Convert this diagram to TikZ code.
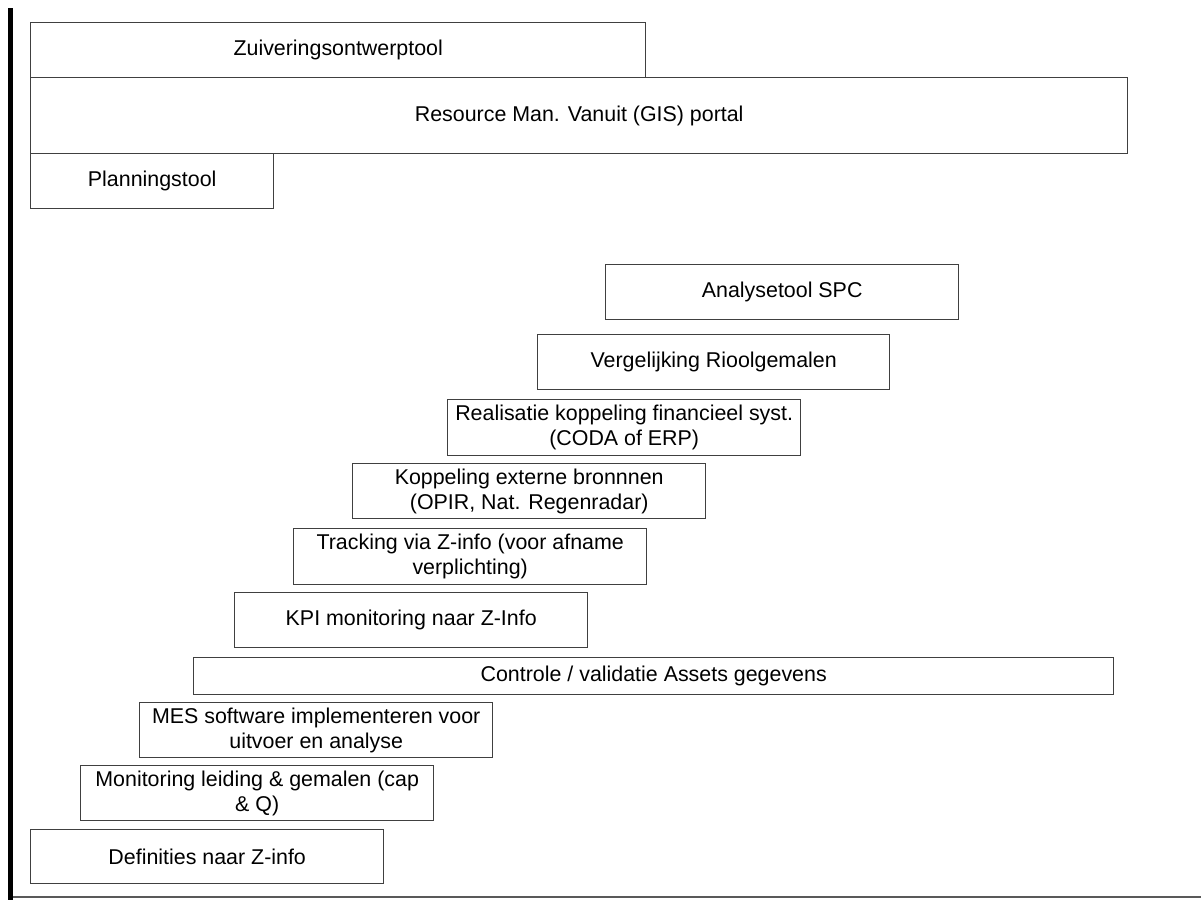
\documentclass[tikz,border=0pt]{standalone}
\usepackage{fontspec}
\setmainfont{Liberation Sans}
\begin{document}
\begin{tikzpicture}[x=1pt,y=-1pt,
  stage/.style={draw=black!75, line width=1.4pt, fill=white, inner sep=0pt,
    align=center, anchor=north west, font=\fontsize{21.4}{25}\selectfont},
  axisline/.style={line width=4.5pt, black},
  baseline/.style={line width=1.5pt, black!65},
]
\useasboundingbox (0,0) rectangle (1201,900);

% time axis
\coordinate (axtop) at (10.5,8);
\coordinate (axbot) at (10.5,900);
\coordinate (baseL) at (10.5,897);
\coordinate (baseR) at (1201,897);
\draw[baseline] (baseL) -- (baseR);
\draw[axisline] (axtop) -- (axbot);

% long-running tools at the top
\node[stage, minimum width=615pt, minimum height=55pt] (zuiv) at (30,22) {Zuiveringsontwerptool};
\node[stage, minimum width=1097pt, minimum height=76pt] (res) at (30,77) {Resource Man. Vanuit (GIS) portal};
\node[stage, minimum width=243pt, minimum height=55pt] (plan) at (30,153) {Planningstool};

% staircase of steps
\node[stage, minimum width=353pt, minimum height=55pt] (spc) at (605,264) {Analysetool SPC};
\node[stage, minimum width=352pt, minimum height=55pt] (verg) at (537,334) {Vergelijking Rioolgemalen};
\node[stage, minimum width=353pt, minimum height=56pt] (real) at (447,399) {Realisatie koppeling financieel syst.\\(CODA of ERP)};
\node[stage, minimum width=353pt, minimum height=55pt] (kopp) at (352,463) {Koppeling externe bronnnen\\(OPIR, Nat. Regenradar)};
\node[stage, minimum width=353pt, minimum height=56pt] (track) at (293,528) {Tracking via Z-info (voor afname\\verplichting)};
\node[stage, minimum width=353pt, minimum height=55pt] (kpi) at (234,592) {KPI monitoring naar Z-Info};
\node[stage, minimum width=920pt, minimum height=37pt] (ctrl) at (193,657) {Controle / validatie Assets gegevens};
\node[stage, minimum width=353pt, minimum height=55pt] (mes) at (139,702) {MES software implementeren voor\\uitvoer en analyse};
\node[stage, minimum width=353pt, minimum height=55pt] (mon) at (80,765) {Monitoring leiding \& gemalen (cap\\\& Q)};
\node[stage, minimum width=353pt, minimum height=54pt] (def) at (30,829) {Definities naar Z-info};
\end{tikzpicture}
\end{document}
